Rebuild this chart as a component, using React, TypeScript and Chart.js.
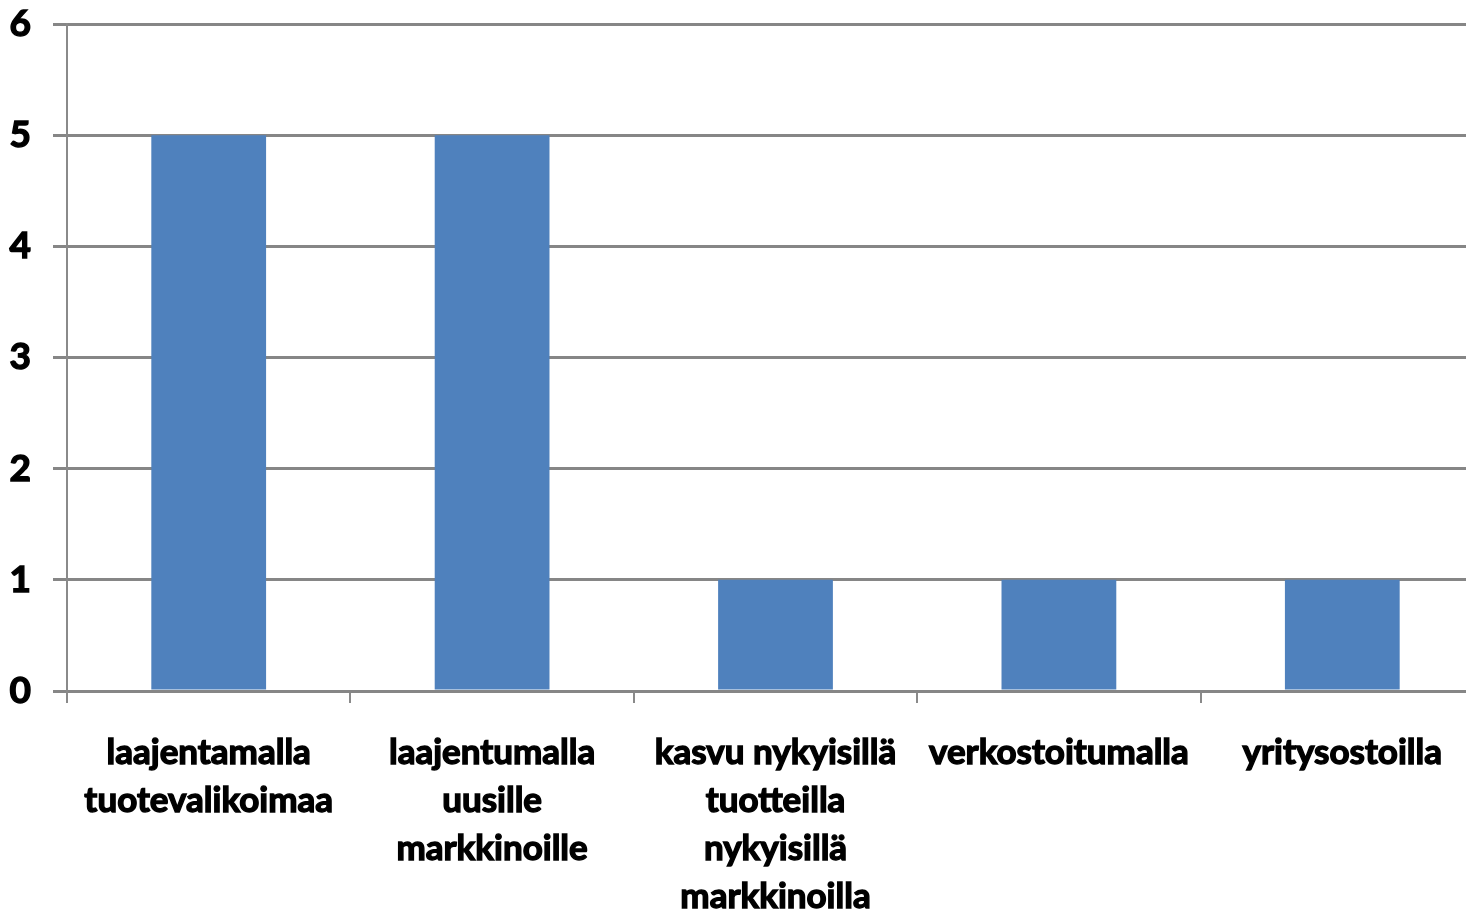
import React, { useEffect, useRef } from "react";
import { Chart, registerables } from "chart.js";

Chart.register(...registerables);

const categories: string[][] = [
  ["laajentamalla", "tuotevalikoimaa"],
  ["laajentumalla", "uusille", "markkinoille"],
  ["kasvu nykyisillä", "tuotteilla", "nykyisillä", "markkinoilla"],
  ["verkostoitumalla"],
  ["yritysostoilla"],
];
const values: number[] = [5, 5, 1, 1, 1];
const yMin = 0;
const yMax = 6;
const yStep = 1;

export default function App() {
  const ref = useRef<HTMLCanvasElement | null>(null);

  useEffect(() => {
    if (!ref.current) return;
    const chart = new Chart(ref.current, {
      type: "bar",
      data: {
        labels: categories,
        datasets: [
          {
            data: values,
            backgroundColor: "#4F81BD",
            borderWidth: 0,
            categoryPercentage: 1,
            barPercentage: 0.405,
          },
        ],
      },
      options: {
        animation: false,
        responsive: false,
        maintainAspectRatio: false,
        layout: { padding: { top: 24, right: 16, left: 0, bottom: 0 } },
        plugins: {
          legend: { display: false },
          tooltip: { enabled: false },
        },
        scales: {
          x: {
            grid: {
              drawOnChartArea: false,
              drawTicks: true,
              tickLength: 12,
              color: "#8a8a8a",
              lineWidth: 2,
              offset: true,
            },
            border: { display: true, color: "#868686", width: 3 },
            ticks: {
              color: "#000000",
              font: { family: "Lato", weight: "bold", size: 35, lineHeight: 1.37 },
              textStrokeColor: "#000000",
              textStrokeWidth: 1.4,
              padding: 26,
              maxRotation: 0,
              minRotation: 0,
              autoSkip: false,
            },
            afterFit: (scale: any) => {
              scale.height = 220;
              scale.paddingLeft = 0;
              scale.paddingRight = 0;
            },
          },
          y: {
            min: yMin,
            max: yMax,
            grid: {
              color: "#868686",
              lineWidth: 3,
              tickLength: 14,
              drawTicks: true,
            },
            border: { display: true, color: "#8a8a8a", width: 2 },
            ticks: {
              stepSize: yStep,
              color: "#000000",
              font: { family: "Lato", weight: "bold", size: 37 },
              textStrokeColor: "#000000",
              textStrokeWidth: 1.4,
              padding: 22,
            },
            afterFit: (scale: any) => {
              scale.width = 67;
              scale.paddingTop = 0;
              scale.paddingBottom = 0;
            },
          },
        },
      },
    });
    return () => chart.destroy();
  }, []);

  return (
    <div
      style={{
        position: "fixed",
        left: 0,
        top: 0,
        width: 1466,
        height: 911,
        overflow: "hidden",
        background: "#ffffff",
      }}
    >
      <canvas ref={ref} width={1500} height={911} style={{ display: "block" }} />
    </div>
  );
}
